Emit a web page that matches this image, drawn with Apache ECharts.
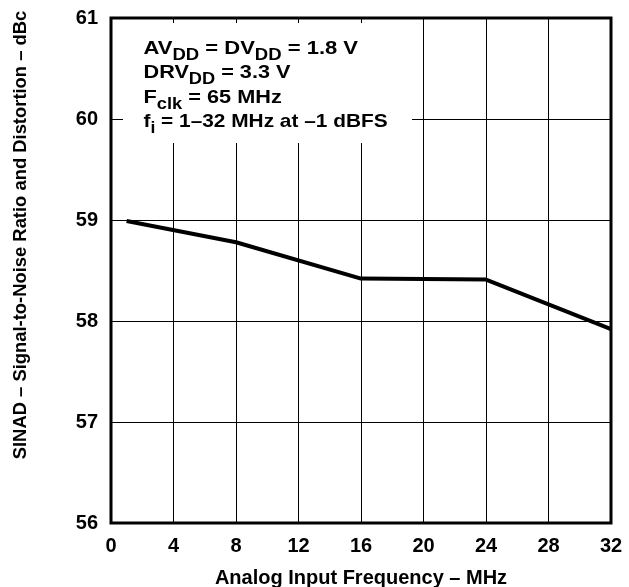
<!DOCTYPE html>
<html>
<head>
<meta charset="utf-8">
<script src="https://cdn.jsdelivr.net/npm/echarts@6/dist/echarts.min.js"></script>
<style>html,body{margin:0;padding:0;background:#fff}#c{width:629px;height:587px}</style>
</head>
<body>
<div id="c"></div>
<script>
const freqMHz = [1, 8, 16, 24, 32];
const sinadDbc = [58.99, 58.78, 58.42, 58.41, 57.92];
const xTicks = [0, 4, 8, 12, 16, 20, 24, 28, 32];
const yTicks = [56, 57, 58, 59, 60, 61];
const xTitle = 'Analog Input Frequency – MHz';
const yTitle = 'SINAD – Signal-to-Noise Ratio and Distortion – dBc';
// annotation lines: [text, isSubscript]
const noteLines = [
  [['AV', 0], ['DD', 1], [' = DV', 0], ['DD', 1], [' = 1.8 V', 0]],
  [['DRV', 0], ['DD', 1], [' = 3.3 V', 0]],
  [['F', 0], ['clk', 1], [' = 65 MHz', 0]],
  [['f', 0], ['i', 1], [' = 1–32 MHz at –1 dBFS', 0]]
];

const FF = '"Liberation Sans", Arial, sans-serif';
const mainSize = 19, subSize = 16;
const cv = document.createElement('canvas').getContext('2d');
function w(t, s) { cv.font = 'bold ' + s + 'px ' + FF; return cv.measureText(t).width; }

const graphics = [];
graphics.push({type: 'rect', shape: {x: 123, y: 23, width: 289, height: 120}, style: {fill: '#fff'}, z: 50});
const baselines = [55, 79, 103.5, 128];
const lineScale = [1.158, 1.14, 1.143, 1.097];
noteLines.forEach((line, i) => {
  let x = 0;
  const kids = [];
  line.forEach(([t, sub]) => {
    const s = sub ? subSize : mainSize;
    const base = baselines[i] + (sub ? 6 : 0);
    kids.push({type: 'text', x: x, y: base - 0.31 * s, z: 51,
      style: {text: t, font: 'bold ' + s + 'px ' + FF, fill: '#000', verticalAlign: 'middle'}});
    x += w(t, s);
  });
  graphics.push({type: 'group', x: 143.5, y: 0, scaleX: lineScale[i], z: 51, children: kids});
});
graphics.push({type: 'text', x: 361, y: 578, z: 51,
  style: {text: xTitle, font: 'bold 20px ' + FF, fill: '#000', align: 'center', verticalAlign: 'middle'}});
graphics.push({type: 'text', x: 21, y: 235, rotation: Math.PI / 2, z: 51,
  style: {text: yTitle, font: 'bold 18.4px ' + FF, fill: '#000', align: 'center', verticalAlign: 'middle'}});

const chart = echarts.init(document.getElementById('c'), null, {renderer: 'canvas'});
chart.setOption({
  animation: false,
  backgroundColor: '#fff',
  grid: {left: 111, top: 18, width: 500, height: 505, show: true, borderColor: '#000', borderWidth: 3, backgroundColor: 'transparent'},
  xAxis: {
    type: 'value', min: xTicks[0], max: xTicks[xTicks.length - 1], interval: 4,
    axisLine: {show: false}, axisTick: {show: false},
    splitLine: {show: true, lineStyle: {color: '#000', width: 1}},
    axisLabel: {margin: 13, color: '#000', fontSize: 20, fontWeight: 'bold', fontFamily: FF}
  },
  yAxis: {
    type: 'value', min: yTicks[0], max: yTicks[yTicks.length - 1], interval: 1,
    axisLine: {show: false}, axisTick: {show: false},
    splitLine: {show: true, lineStyle: {color: '#000', width: 1}},
    axisLabel: {margin: 13, color: '#000', fontSize: 20, fontWeight: 'bold', fontFamily: FF}
  },
  series: [{
    type: 'line', data: freqMHz.map((f, i) => [f, sinadDbc[i]]),
    symbol: 'none', lineStyle: {color: '#000', width: 4}, z: 10
  }],
  graphic: graphics
});
</script>
</body>
</html>
